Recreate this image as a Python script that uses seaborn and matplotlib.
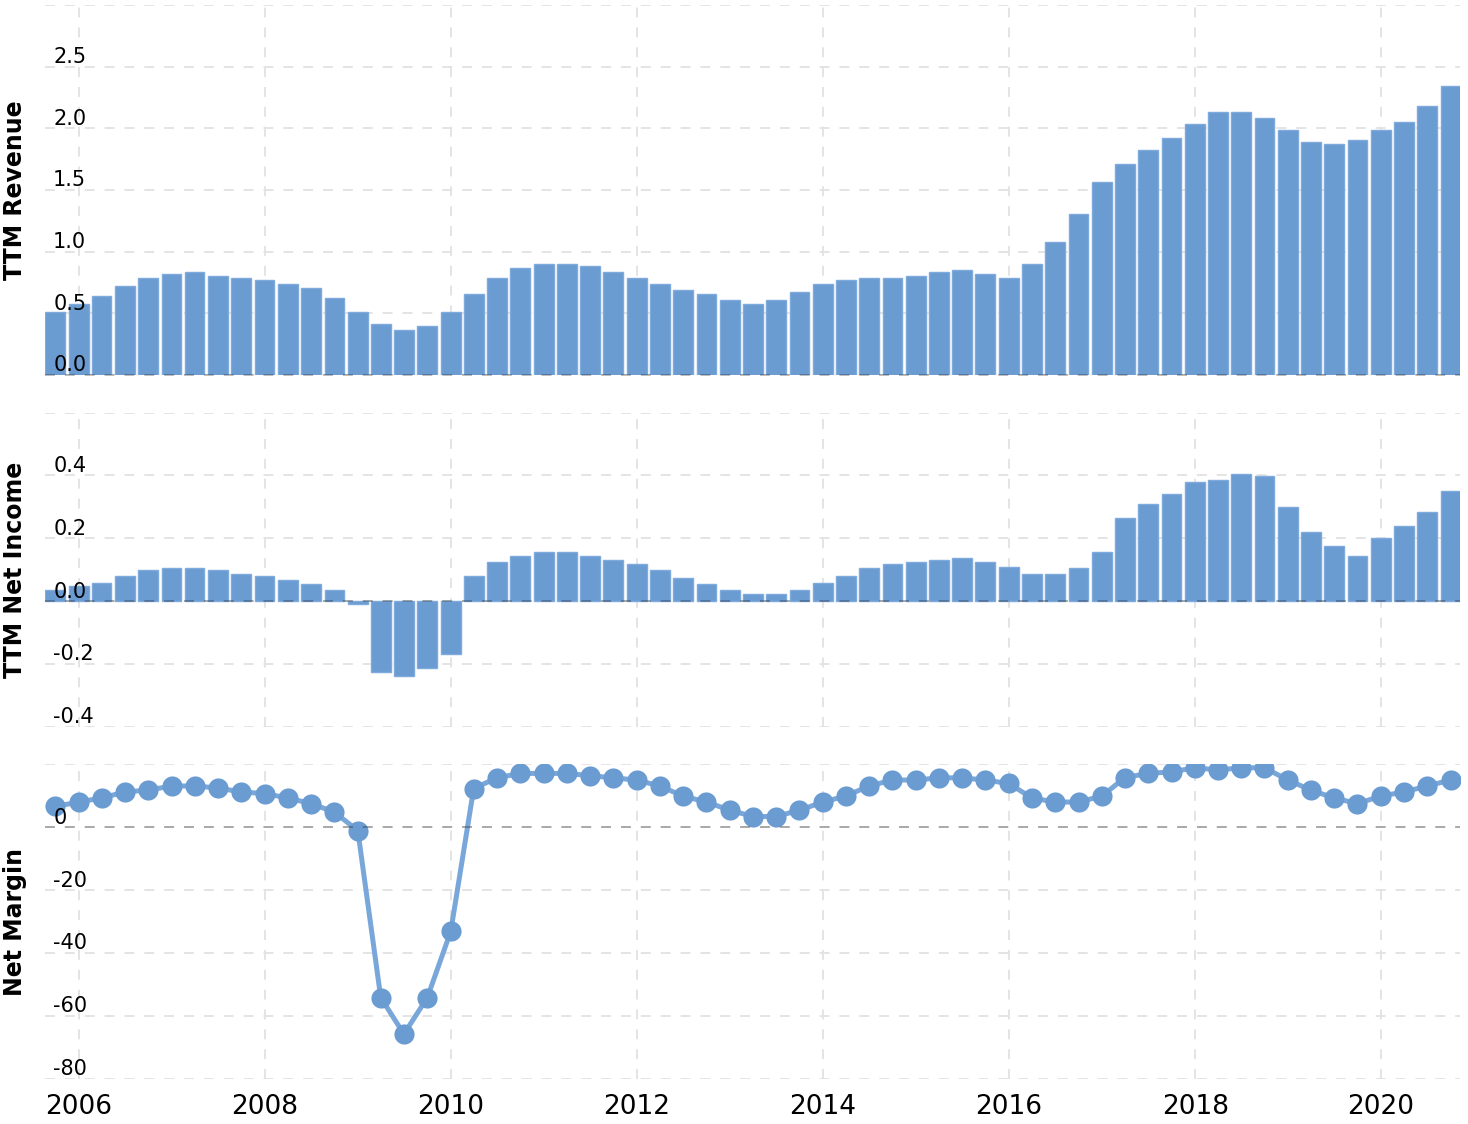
import matplotlib
matplotlib.use("Agg")
import matplotlib.pyplot as plt
import matplotlib.dates as mdates
import pandas as pd
import seaborn as sns

# quarter ends, Q3 2005 .. Q3 2020
quarters = pd.period_range("2005Q3", "2020Q3", freq="Q")

# TTM revenue (billions)
revenue = [0.511, 0.576, 0.641, 0.722, 0.787, 0.819, 0.835, 0.803, 0.787, 0.770,
           0.738, 0.706, 0.624, 0.511, 0.414, 0.365, 0.397, 0.511, 0.657, 0.787,
           0.868, 0.900, 0.900, 0.884, 0.835, 0.787, 0.738, 0.689, 0.657, 0.608,
           0.576, 0.608, 0.673, 0.738, 0.770, 0.787, 0.787, 0.803, 0.835, 0.852,
           0.819, 0.787, 0.900, 1.079, 1.306, 1.565, 1.711, 1.825, 1.922, 2.036,
           2.133, 2.133, 2.084, 1.987, 1.890, 1.873, 1.906, 1.987, 2.052, 2.182, 2.344]

# TTM net income (billions)
net_income = [0.034, 0.047, 0.059, 0.079, 0.098, 0.104, 0.104, 0.098, 0.085, 0.079,
              0.066, 0.053, 0.034, -0.008, -0.226, -0.239, -0.213, -0.169, 0.079, 0.123,
              0.142, 0.155, 0.155, 0.142, 0.130, 0.117, 0.098, 0.072, 0.053, 0.034,
              0.021, 0.021, 0.034, 0.059, 0.079, 0.104, 0.117, 0.123, 0.130, 0.136,
              0.123, 0.110, 0.085, 0.085, 0.104, 0.155, 0.263, 0.308, 0.340, 0.378,
              0.384, 0.403, 0.397, 0.301, 0.219, 0.174, 0.142, 0.200, 0.238, 0.282, 0.352]

# net margin (%)
net_margin = [6.6, 8.0, 9.3, 11.2, 11.8, 13.1, 13.1, 12.5, 11.2, 10.7,
              9.3, 7.5, 4.8, -1.1, -54.2, -65.8, -54.2, -33.1, 12.3, 15.7,
              17.1, 17.1, 17.1, 16.4, 15.7, 15.0, 13.1, 9.9, 8.0, 5.4,
              3.4, 3.4, 5.4, 8.0, 9.9, 13.1, 15.0, 15.0, 15.7, 15.7,
              15.0, 13.9, 9.3, 8.0, 8.0, 9.9, 15.8, 17.1, 17.6, 18.9,
              18.2, 18.9, 18.9, 15.0, 11.8, 9.3, 7.5, 9.9, 11.2, 13.1, 15.0]

rev_ticks = [0.0, 0.5, 1.0, 1.5, 2.0, 2.5]
ni_ticks = [-0.4, -0.2, 0.0, 0.2, 0.4]
margin_ticks = [-80, -60, -40, -20, 0]
year_ticks = [2006, 2008, 2010, 2012, 2014, 2016, 2018, 2020]

BLUE = "#6a9bd1"
BAR_EDGE = "#7eaadc"
LINE = "#7aa7da"
GRID = "#e2e2e2"
DASH = (0, (5.5, 5.5))

sns.set_style("white")
plt.rcParams["font.family"] = ["DejaVu Sans"]
plt.rcParams["text.color"] = "black"
plt.rcParams["axes.labelcolor"] = "black"
plt.rcParams["xtick.color"] = "black"

df = pd.DataFrame({"date": quarters.end_time.normalize(),
                   "revenue": revenue, "net_income": net_income, "margin": net_margin})
df["x"] = mdates.date2num(df["date"])

fig = plt.figure(figsize=(14.68, 11.24), dpi=100)
ax_rev = fig.add_axes([0.0307, 0.6664, 0.9639, 0.3292])
ax_ni = fig.add_axes([0.0307, 0.3535, 0.9639, 0.2794])
ax_nm = fig.add_axes([0.0307, 0.0403, 0.9639, 0.2797])

sns.barplot(data=df, x="x", y="revenue", native_scale=True, width=0.86, color=BLUE,
            saturation=1, edgecolor=BAR_EDGE, linewidth=1, errorbar=None, ax=ax_rev)
sns.barplot(data=df, x="x", y="net_income", native_scale=True, width=0.86, color=BLUE,
            saturation=1, edgecolor=BAR_EDGE, linewidth=1, errorbar=None, ax=ax_ni)
sns.lineplot(data=df, x="x", y="margin", color=LINE, linewidth=3.6, marker="o",
             markersize=14.5, markerfacecolor=BLUE, markeredgecolor=BLUE,
             markeredgewidth=0, ax=ax_nm)

xmin = mdates.date2num(pd.Timestamp("2005-08-21"))
xmax = mdates.date2num(pd.Timestamp("2020-11-06"))
year_pos = [mdates.date2num(pd.Timestamp(f"{y}-01-01")) for y in year_ticks]

panels = [
    (ax_rev, (0, 3.0), rev_ticks + [3.0], rev_ticks, "{:.1f}", "TTM Revenue"),
    (ax_ni, (-0.4, 0.6), ni_ticks + [0.6], ni_ticks, "{:.1f}", "TTM Net Income"),
    (ax_nm, (-80, 20), margin_ticks + [20], margin_ticks, "{:.0f}", "Net Margin"),
]

for ax, ylim, grid_ticks, label_ticks, fmt, title in panels:
    ax.set_xlim(xmin, xmax)
    ax.set_ylim(*ylim)
    ax.set_yticks(grid_ticks)
    ax.set_xticks(year_pos)
    ax.set_xticklabels([str(y) for y in year_ticks])
    ax.set_axisbelow(True)
    ax.grid(True, color=GRID, linestyle=DASH, linewidth=1.3)
    for s in ax.spines.values():
        s.set_visible(False)
    ax.tick_params(axis="both", length=0, labelleft=False, labelbottom=False)
    ax.axhline(0, color="black", alpha=0.28, linestyle=DASH, linewidth=1.3,
               zorder=4, clip_on=False)
    for t in label_ticks:
        ax.annotate(fmt.format(t), xy=(0.0057, t), xycoords=("axes fraction", "data"),
                    xytext=(0, 2.5), textcoords="offset points", fontsize=15,
                    color="black", ha="left", va="baseline", zorder=6)
    ax.set_xlabel("")
    ax.set_ylabel(title, fontsize=17, fontweight="bold", va="center", color="black")
    ax.yaxis.set_label_coords(-0.0215, 0.5)

ax_nm.tick_params(axis="x", labelbottom=True, labelsize=19, pad=11, labelcolor="black")

fig.savefig("out.png", dpi=100)
